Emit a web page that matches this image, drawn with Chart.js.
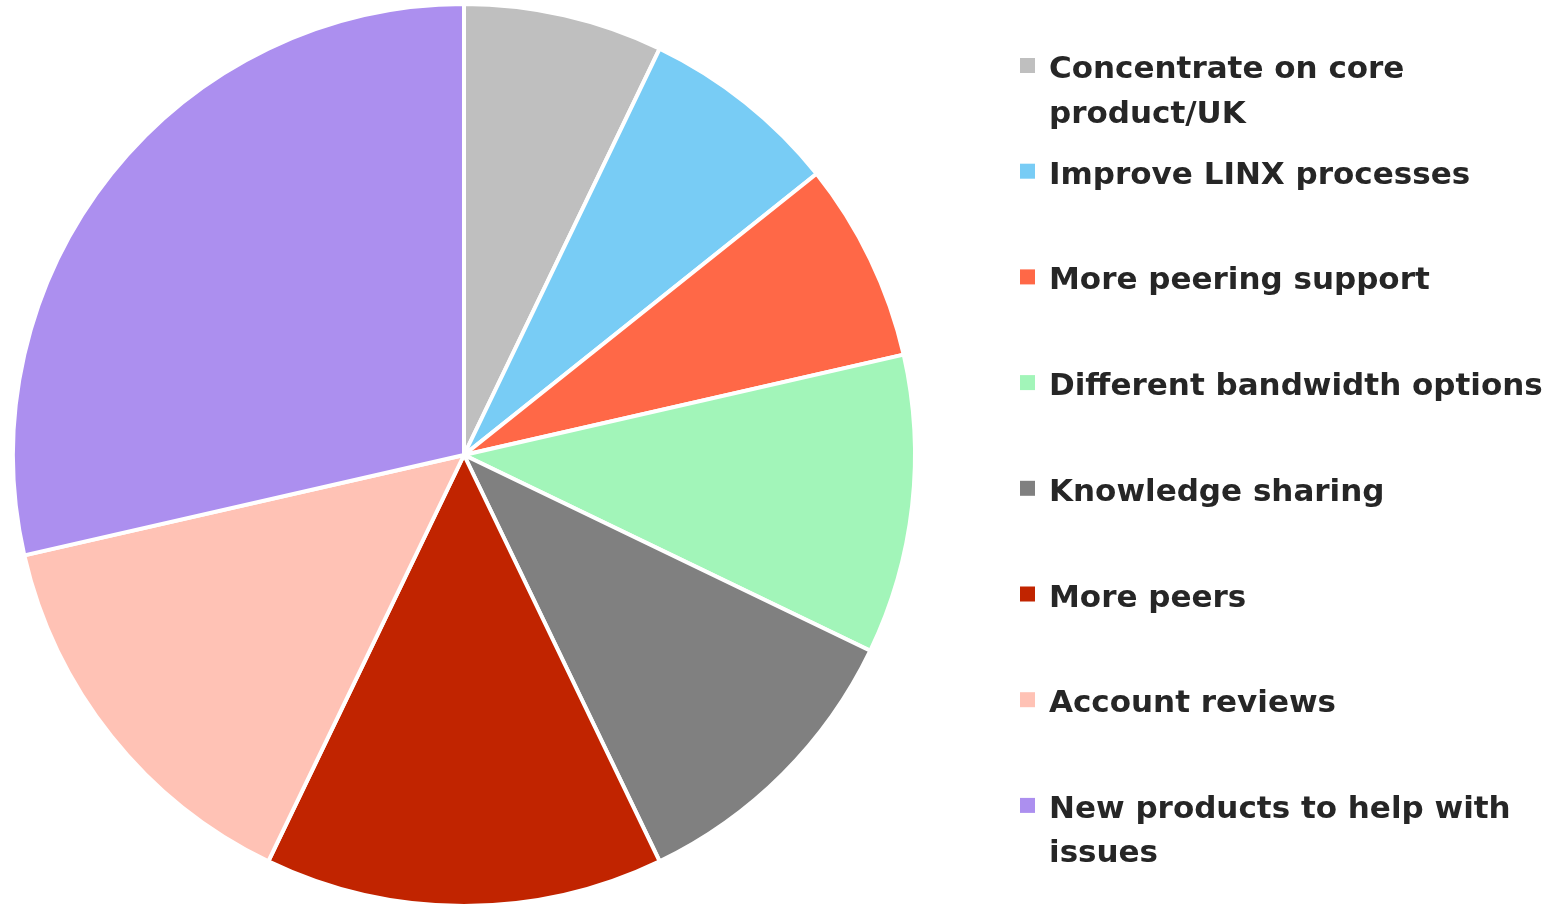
<!DOCTYPE html>
<html lang="en">
<head>
    <meta charset="UTF-8">
    <title>Member priorities</title>
    <script src="https://cdn.jsdelivr.net/npm/chart.js"></script>
    <style>
        html, body {
            margin: 0;
            padding: 0;
            background: #fff;
            overflow: hidden;
        }
        #wrap {
            width: 1553px;
            height: 908px;
        }
    </style>
</head>
<body>
    <div id="wrap">
        <canvas id="pieChart" width="1553" height="908"></canvas>
    </div>

    <script>
        // each label is split into the lines it shows in the legend
        const labels = [
            ['Concentrate on core', 'product/UK'],
            ['Improve LINX processes'],
            ['More peering support'],
            ['Different bandwidth options'],
            ['Knowledge sharing'],
            ['More peers'],
            ['Account reviews'],
            ['New products to help with', 'issues']
        ];
        const responses = [2, 2, 2, 3, 3, 4, 4, 8];
        const colors = ['#BFBFBF', '#78CCF5', '#FF6847', '#A2F5B9', '#808080', '#C12400', '#FFC2B5', '#AC8FEF'];

        // legend on the right, one evenly spaced slot per slice
        const sideLegend = {
            id: 'sideLegend',
            afterDraw(chart) {
                const ctx = chart.ctx;
                const names = chart.data.labels;
                const fills = chart.data.datasets[0].backgroundColor;
                const boxX = 1020, textX = 1049, firstTop = 58, step = 105.7, lineH = 44.5;

                ctx.save();
                ctx.font = 'bold 31px "DejaVu Sans", sans-serif';
                ctx.textBaseline = 'alphabetic';
                ctx.textAlign = 'left';
                names.forEach((lines, i) => {
                    const top = firstTop + i * step;
                    ctx.fillStyle = fills[i];
                    ctx.fillRect(boxX, top, 15, 15);
                    ctx.fillStyle = '#262626';
                    lines.forEach((line, j) => {
                        ctx.fillText(line, textX, top + 20 + j * lineH);
                    });
                });
                ctx.restore();
            }
        };

        const ctx = document.getElementById('pieChart').getContext('2d');
        const pieChart = new Chart(ctx, {
            type: 'pie',
            data: {
                labels: labels,
                datasets: [{
                    data: responses,
                    backgroundColor: colors,
                    borderColor: '#ffffff',
                    borderWidth: 4
                }]
            },
            options: {
                responsive: false,
                devicePixelRatio: 1,
                animation: false,
                layout: {
                    padding: { left: 11, top: 2, right: 636, bottom: 0 }
                },
                plugins: {
                    legend: { display: false },
                    tooltip: { enabled: false }
                }
            },
            plugins: [sideLegend]
        });
    </script>
</body>
</html>
